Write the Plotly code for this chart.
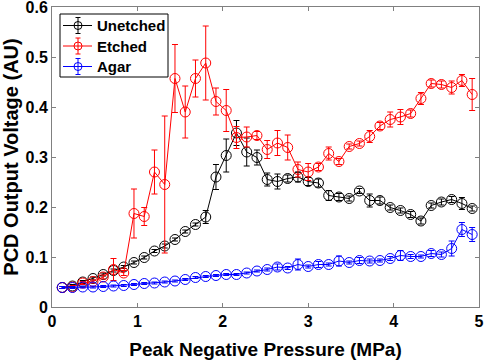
import plotly.graph_objects as go

pressure = [0.12, 0.24, 0.36, 0.48, 0.60, 0.72, 0.84, 0.96, 1.08, 1.20, 1.32, 1.44, 1.56, 1.68,
            1.80, 1.92, 2.04, 2.16, 2.28, 2.40, 2.52, 2.64, 2.76, 2.88, 3.00, 3.12, 3.24, 3.36,
            3.48, 3.60, 3.72, 3.84, 3.96, 4.08, 4.20, 4.32, 4.44, 4.56, 4.68, 4.80, 4.92]

unetched = [0.039, 0.042, 0.050, 0.057, 0.065, 0.073, 0.080, 0.089, 0.099, 0.112, 0.122, 0.135,
            0.151, 0.165, 0.180, 0.260, 0.303, 0.348, 0.310, 0.299, 0.255, 0.251, 0.257, 0.260,
            0.251, 0.248, 0.223, 0.220, 0.217, 0.232, 0.213, 0.213, 0.199, 0.193, 0.185, 0.172,
            0.203, 0.210, 0.215, 0.207, 0.197]
unetched_err = [0.002, 0.003, 0.003, 0.003, 0.003, 0.003, 0.003, 0.003, 0.003, 0.003, 0.004, 0.003,
                0.003, 0.003, 0.013, 0.025, 0.033, 0.025, 0.028, 0.015, 0.013, 0.015, 0.007, 0.010,
                0.008, 0.008, 0.010, 0.007, 0.005, 0.005, 0.013, 0.007, 0.005, 0.005, 0.006, 0.006,
                0.005, 0.006, 0.006, 0.012, 0.005]

etched = [0.039, 0.040, 0.048, 0.051, 0.060, 0.075, 0.068, 0.187, 0.181, 0.270, 0.245, 0.457,
          0.390, 0.457, 0.488, 0.411, 0.393, 0.339, 0.340, 0.343, 0.315, 0.328, 0.319, 0.275,
          0.270, 0.280, 0.307, 0.291, 0.321, 0.327, 0.341, 0.362, 0.375, 0.380, 0.387, 0.417,
          0.447, 0.445, 0.439, 0.453, 0.425]
etched_err = [0.002, 0.003, 0.003, 0.003, 0.004, 0.022, 0.005, 0.049, 0.018, 0.044, 0.137, 0.068,
              0.052, 0.037, 0.074, 0.027, 0.042, 0.022, 0.020, 0.008, 0.018, 0.025, 0.025, 0.015,
              0.017, 0.007, 0.013, 0.006, 0.005, 0.005, 0.012, 0.007, 0.015, 0.015, 0.007, 0.012,
              0.007, 0.007, 0.013, 0.012, 0.032]

agar = [0.039, 0.039, 0.040, 0.040, 0.041, 0.042, 0.043, 0.045, 0.047, 0.048, 0.050, 0.052,
        0.055, 0.059, 0.061, 0.063, 0.065, 0.065, 0.068, 0.072, 0.075, 0.080, 0.078, 0.085,
        0.081, 0.085, 0.085, 0.092, 0.089, 0.093, 0.092, 0.093, 0.097, 0.103, 0.101, 0.101,
        0.107, 0.105, 0.117, 0.155, 0.145]
agar_err = [0.002, 0.002, 0.002, 0.002, 0.002, 0.002, 0.002, 0.002, 0.002, 0.002, 0.002, 0.002,
            0.002, 0.002, 0.002, 0.002, 0.002, 0.002, 0.002, 0.002, 0.003, 0.006, 0.003, 0.011,
            0.003, 0.006, 0.003, 0.010, 0.003, 0.006, 0.004, 0.003, 0.004, 0.010, 0.004, 0.003,
            0.006, 0.005, 0.015, 0.014, 0.014]

series_names = ["Unetched", "Etched", "Agar"]
series_values = [unetched, etched, agar]
series_errors = [unetched_err, etched_err, agar_err]
series_colors = ["black", "red", "blue"]

FONT = "Liberation Sans, Arial, sans-serif"

# plot-area geometry (pixels) used to place the hand-built legend box
W, H = 484, 360
ML, MR, MT, MB = 52, 5, 7, 53
PW, PH = W - ML - MR, H - MT - MB


def px_x(px):
    return (px - ML) / PW


def px_y(py):
    return (H - MB - py) / PH


fig = go.Figure()
for name, y, err, color in zip(series_names, series_values, series_errors, series_colors):
    fig.add_trace(go.Scatter(
        x=pressure, y=y, name=name, mode="lines+markers", showlegend=False,
        line=dict(color=color, width=1),
        marker=dict(symbol="circle-open", size=10, color=color, line=dict(width=1)),
        error_y=dict(type="data", array=err, visible=True, color=color, thickness=1, width=3),
        cliponaxis=False,
    ))

# legend box (drawn by hand to match the compact MATLAB-style legend)
shapes = [dict(type="rect", xref="paper", yref="paper",
               x0=px_x(60), x1=px_x(168), y0=px_y(77), y1=px_y(14),
               line=dict(color="black", width=1), fillcolor="white", layer="above")]
annotations = []
row_y = [25.5, 46, 66.5]
for name, color, ry in zip(series_names, series_colors, row_y):
    yc = px_y(ry)
    cx = px_x(78)
    shapes.append(dict(type="line", xref="paper", yref="paper", x0=px_x(63), x1=px_x(92),
                       y0=yc, y1=yc, line=dict(color=color, width=1), layer="above"))
    shapes.append(dict(type="line", xref="paper", yref="paper", x0=cx, x1=cx,
                       y0=px_y(ry + 8), y1=px_y(ry - 8), line=dict(color=color, width=1),
                       layer="above"))
    for cap in (ry + 8, ry - 8):
        shapes.append(dict(type="line", xref="paper", yref="paper", x0=px_x(75.5), x1=px_x(80.5),
                           y0=px_y(cap), y1=px_y(cap), line=dict(color=color, width=1),
                           layer="above"))
    shapes.append(dict(type="circle", xref="paper", yref="paper",
                       xsizemode="pixel", ysizemode="pixel", xanchor=cx, yanchor=yc,
                       x0=-4, x1=4, y0=-4, y1=4, line=dict(color=color, width=1),
                       layer="above"))
    annotations.append(dict(text=name, xref="paper", yref="paper", x=px_x(95), y=yc,
                            xanchor="left", yanchor="middle", showarrow=False,
                            font=dict(family=FONT, size=15, color="black", weight="bold")))

axis_common = dict(
    showgrid=False, zeroline=False, showline=True, linecolor="#808080", linewidth=1,
    mirror="ticks", ticks="inside", ticklen=4, tickcolor="#808080",
    automargin=False, ticklabeloverflow="allow",
    tickfont=dict(family=FONT, size=16, color="black", weight="bold"),
)

fig.update_layout(
    width=W, height=H,
    margin=dict(l=ML, r=MR, t=MT, b=MB),
    paper_bgcolor="white", plot_bgcolor="white",
    showlegend=False,
    shapes=shapes, annotations=annotations,
    xaxis=dict(range=[0, 5], tickvals=[0, 1, 2, 3, 4, 5],
               title=dict(text="Peak Negative Pressure (MPa)",
                          font=dict(family=FONT, size=19, color="black", weight="bold")),
               **axis_common),
    yaxis=dict(range=[0, 0.6], tickvals=[0, 0.1, 0.2, 0.3, 0.4, 0.5, 0.6],
               ticktext=["0", "0.1", "0.2", "0.3", "0.4", "0.5", "0.6"],
               title=dict(text="PCD Output Voltage (AU)",
                          font=dict(family=FONT, size=20, color="black", weight="bold")),
               **axis_common),
)

fig.write_html("out.html", config={"displayModeBar": False},
               post_script="document.body.style.margin='0';")
